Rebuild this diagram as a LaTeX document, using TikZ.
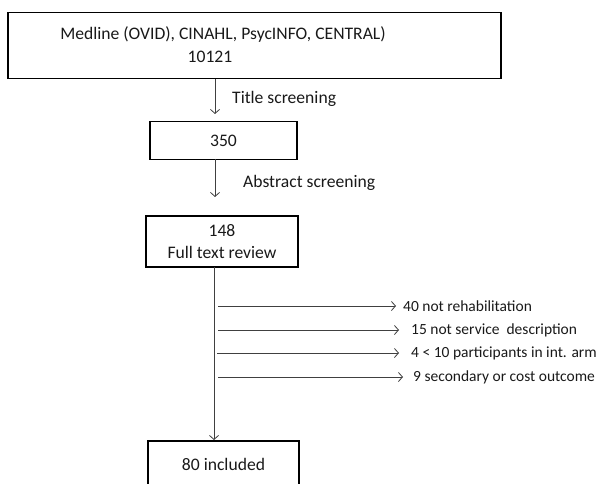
\documentclass[tikz,border=0pt]{standalone}
\usepackage{fontspec}
\setmainfont{Carlito}
\usetikzlibrary{arrows.meta}
\begin{document}
\begin{tikzpicture}[x=1pt,y=-1pt,
  box/.style={draw=black,line width=1.6pt,rectangle,inner sep=0pt},
  txt/.style={font=\fontsize{17.6}{21}\selectfont,inner sep=0pt,text=black!90},
  stxt/.style={font=\fontsize{15.5}{18}\selectfont,inner sep=0pt,text=black!90},
  conn/.style={draw=black!75,line width=0.8pt,-{Straight Barb[length=4pt,width=9pt,line width=0.8pt]}}]
\useasboundingbox (0,0) rectangle (600,484);
\clip (0,0) rectangle (600,484);
% boxes
\node[box,minimum width=493pt,minimum height=66pt] (top) at (254.5,45.5) {};
\node[txt] (t1) at (223,34) {Medline (OVID), CINAHL, PsycINFO, CENTRAL)};
\node[txt] (t2) at (210,57) {10121};
\node[box,minimum width=147pt,minimum height=38pt,txt] (b350) at (223.5,140.5) {350};
\node[box,minimum width=152pt,minimum height=51pt,txt,align=center] (b148) at (222,241.5) {148\\[1pt]Full text review};
\node[box,minimum width=151pt,minimum height=48pt] (b80) at (223.5,465) {};
\node[txt] (t80) at (223.5,464) {80 included};
% vertical connectors
\coordinate (a1) at (215,79);
\coordinate (a1e) at (215,114);
\draw[conn] (a1) -- (a1e);
\node[txt,anchor=west] (ts) at (232,99) {Title screening};
\coordinate (a2) at (215,159);
\coordinate (a2e) at (215,197);
\draw[conn] (a2) -- (a2e);
\node[txt,anchor=west] (as) at (243,183) {Abstract screening};
\coordinate (a3) at (214,267);
\coordinate (a3e) at (214,440);
\draw[conn] (a3) -- (a3e);
% exclusion arrows
\coordinate (h1) at (218,306);
\node[stxt,anchor=west] (e1) at (403,306) {40 not rehabilitation};
\draw[conn] (h1) -- ([xshift=-7pt]e1.west);
\coordinate (h2) at (218,330);
\node[stxt,anchor=west] (e2) at (411,330) {15 not service\ \ description};
\draw[conn] (h2) -- ([xshift=-12pt]e2.west);
\coordinate (h3) at (217,353);
\node[stxt,anchor=west] (e3) at (411,353) {4 < 10 participants in int. arm};
\draw[conn] (h3) -- ([xshift=-12pt]e3.west);
\coordinate (h4) at (218,377);
\node[stxt,anchor=west] (e4) at (413,377) {9 secondary or cost outcome};
\draw[conn] (h4) -- ([xshift=-10pt]e4.west);
\end{tikzpicture}
\end{document}
